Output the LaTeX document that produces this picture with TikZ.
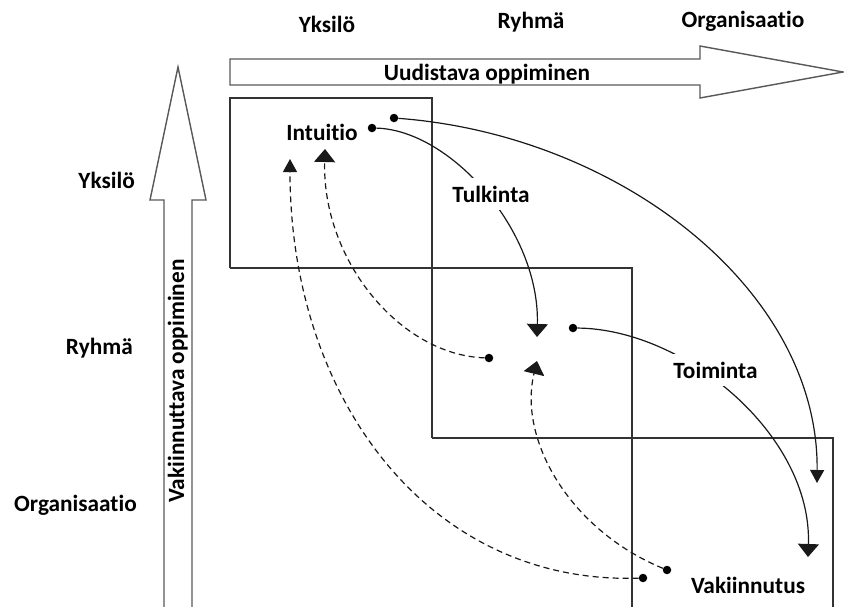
\documentclass[tikz,border=0pt]{standalone}
\usepackage{fontspec}
\setmainfont{Carlito}[Ligatures=NoCommon]
\usetikzlibrary{arrows.meta}
\begin{document}
\begin{tikzpicture}[x=1pt,y=-1pt,
  lbl/.style={font=\bfseries\fontsize{23.3}{28}\selectfont, inner sep=0pt, anchor=base},
  cover/.style={fill=white, inner xsep=3pt, inner ysep=8pt},
  frame/.style={draw=black!80, line width=1.4pt},
  bigarrow/.style={draw=black!65, line width=1.4pt, fill=white, line join=miter},
  dot/.style={circle, fill=black, inner sep=0pt, minimum size=8.5pt},
  flow/.style={line width=1.2pt, draw=black!90},
  dflow/.style={flow, dash pattern=on 6pt off 4pt},
  wide/.style={-{Triangle[width=21pt,length=13pt]}},
  narrow/.style={-{Triangle[width=14pt,length=13pt]}}
]
\useasboundingbox (0,0) rectangle (844,606);

% staircase of regions
\draw[frame] (230,268) -- (230,98) -- (432,98) -- (432,438);
\draw[frame] (230,268) -- (632,268) -- (632,607);
\draw[frame] (432,438) -- (833,438) -- (833,607);

% block arrows
\draw[bigarrow] (230,59) -- (700,59) -- (700,46) -- (843,72) -- (700,98) -- (700,85) -- (230,85) -- cycle;
\draw[bigarrow] (164,607) -- (164,200) -- (150,200) -- (178,67) -- (206,200) -- (192,200) -- (192,607);
\node[lbl] (renew) at (487,80.5) {Uudistava oppiminen};
\node[lbl, rotate=90] (stable) at (184,381) {Vakiinnuttava oppiminen};

% level headings
\node[lbl] (colY) at (327,32) {Yksilö};
\node[lbl] (colR) at (531,28) {Ryhmä};
\node[lbl] (colO) at (743,27) {Organisaatio};
\node[lbl, anchor=base east] (rowY) at (135,188) {Yksilö};
\node[lbl, anchor=base east] (rowR) at (133,354) {Ryhmä};
\node[lbl, anchor=base east] (rowO) at (137,511) {Organisaatio};

% start dots and end points of the flows
\node[dot] (d1) at (372,128) {};
\node[dot] (d2) at (394,118) {};
\node[dot] (d3) at (573,328) {};
\node[dot] (d4) at (489,358) {};
\node[dot] (d5) at (643,578) {};
\node[dot] (d6) at (667,570) {};
\coordinate (e1) at (537,337);
\coordinate (e2) at (817,483);
\coordinate (e3) at (808,557);
\coordinate (e4) at (325,149);
\coordinate (e5) at (290,159);
\coordinate (e6) at (537,361);

% feed-forward flows
\draw[flow, wide] (d1) .. controls (450,130) and (540,230) .. (e1);
\draw[flow, narrow] (d2) .. controls (620,135) and (819,290) .. (e2);
\draw[flow, wide] (d3) .. controls (685,329) and (812,435) .. (e3);
% feedback flows
\draw[dflow, wide] (d4) .. controls (400,355) and (322,260) .. (e4);
\draw[dflow, narrow] (d5) .. controls (430,585) and (290,400) .. (e5);
\draw[dflow, wide] (d6) .. controls (570,530) and (518,440) .. (e6);

% process labels
\node[lbl] (intuitio) at (322,140) {Intuitio};
\node[lbl, cover] (tulkinta) at (491,202) {Tulkinta};
\node[lbl, cover] (toiminta) at (715.5,378) {Toiminta};
\node[lbl] (vakiinnutus) at (748,593) {Vakiinnutus};
\end{tikzpicture}
\end{document}
